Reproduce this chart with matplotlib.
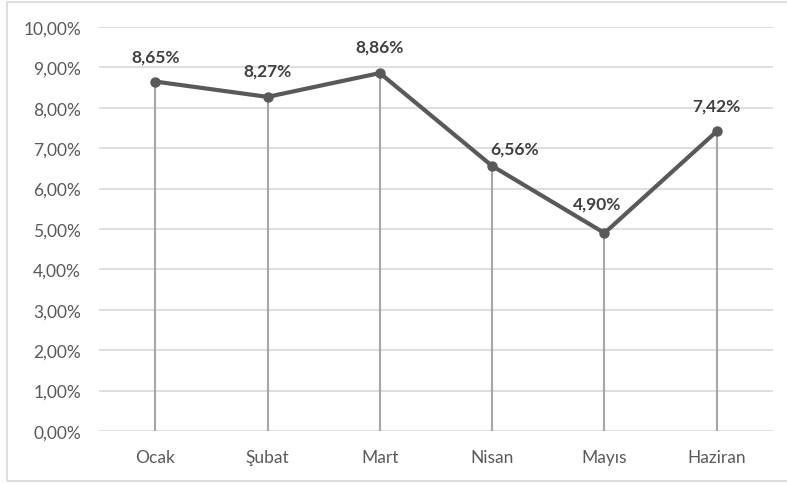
import matplotlib.pyplot as plt
from matplotlib.patches import Rectangle

months = ["Ocak", "Şubat", "Mart", "Nisan", "Mayıs", "Haziran"]
rates = [8.65, 8.27, 8.86, 6.56, 4.90, 7.42]
yticks = [0, 1, 2, 3, 4, 5, 6, 7, 8, 9, 10]

# label offsets in pixels (dx, dy) from each point
label_offsets = [(0, 25), (0, 26), (0, 27), (22, 17), (-7, 30), (0, 26)]

plt.rcParams['font.family'] = ['Lato', 'DejaVu Sans']

fig = plt.figure(figsize=(7.87, 4.85), dpi=100)
ax = fig.add_axes([99/787, 1-432/485, 674/787, 404/485])

x = list(range(len(months)))

# drop lines
ax.vlines(x, 0, rates, color="#a6a6a6", linewidth=1.5, zorder=2)
ax.plot(x, rates, color="#595959", linewidth=3, marker="o", markersize=6.5,
        markerfacecolor="#595959", markeredgecolor="#595959", zorder=3,
        solid_capstyle="round")

for xi, v, (dx, dy) in zip(x, rates, label_offsets):
    ax.annotate(("%.2f%%" % v).replace(".", ","), (xi, v),
                xytext=(dx*0.72, dy*0.72), textcoords="offset points",
                ha="center", va="center", fontsize=12.5, fontweight="bold",
                color="#404040")

ax.set_xlim(-0.5, len(months) - 0.5)
ax.set_ylim(0, 10)
ax.set_yticks(yticks)
ax.set_yticklabels([("%.2f%%" % t).replace(".", ",") for t in yticks])
ax.set_xticks(x)
ax.set_xticklabels(months)
ax.yaxis.grid(True, color="#d9d9d9", linewidth=1.2)
ax.set_axisbelow(True)
for s in ax.spines.values():
    s.set_visible(False)
ax.tick_params(axis="both", length=0, labelsize=12.5, labelcolor="#595959")
ax.tick_params(axis="y", pad=13)
ax.tick_params(axis="x", pad=13)

fig.patches.append(Rectangle((7/787, 1-482/485), 800/787, 479/485,
                             transform=fig.transFigure, fill=False,
                             edgecolor="#d9d9d9", linewidth=1.2))

fig.savefig("out.png", dpi=100)
